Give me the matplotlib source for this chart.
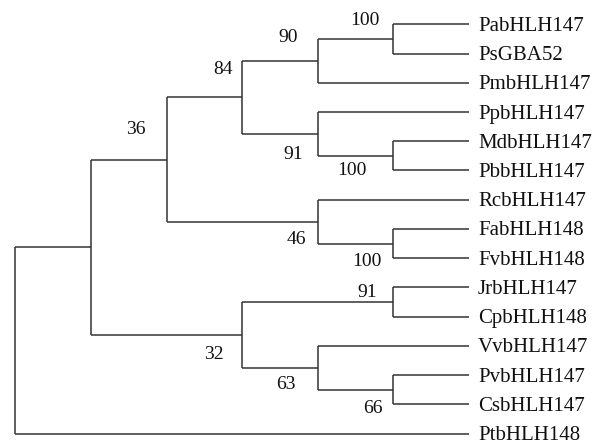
import matplotlib
matplotlib.use("Agg")
import matplotlib.pyplot as plt

# Leaf order top to bottom
leaf_names = ["PabHLH147", "PsGBA52", "PmbHLH147", "PpbHLH147", "MdbHLH147",
              "PbbHLH147", "RcbHLH147", "FabHLH148", "FvbHLH148", "JrbHLH147",
              "CpbHLH148", "VvbHLH147", "PvbHLH147", "CsbHLH147", "PtbHLH148"]

# Internal nodes: children, depth (cladogram level), bootstrap support
node_children = {
    "root": ["ingroup", "PtbHLH148"],
    "ingroup": ["n36", "n32"],
    "n36": ["n84", "n46"],
    "n84": ["n90", "n91"],
    "n90": ["n100a", "PmbHLH147"],
    "n100a": ["PabHLH147", "PsGBA52"],
    "n91": ["PpbHLH147", "n100b"],
    "n100b": ["MdbHLH147", "PbbHLH147"],
    "n46": ["RcbHLH147", "n100c"],
    "n100c": ["FabHLH148", "FvbHLH148"],
    "n32": ["n91b", "n63"],
    "n91b": ["JrbHLH147", "CpbHLH148"],
    "n63": ["VvbHLH147", "n66"],
    "n66": ["PvbHLH147", "CsbHLH147"],
}
node_depth = {"root": 0, "ingroup": 1, "n36": 2, "n84": 3, "n90": 4, "n100a": 5,
              "n91": 4, "n100b": 5, "n46": 4, "n100c": 5, "n32": 3, "n91b": 5,
              "n63": 4, "n66": 5}
node_support = {"n36": 36, "n84": 84, "n90": 90, "n100a": 100, "n91": 91,
                "n100b": 100, "n46": 46, "n100c": 100, "n32": 32, "n91b": 91,
                "n63": 63, "n66": 66}
leaf_depth = 6

# label placement (pixels, right edge relative to node / vertical from branch)
label_offset = {"n36": (-21, 32), "n84": (-10, 30), "n90": (-20, 25),
                "n100a": (-14, 20), "n91": (-15, -19), "n100b": (-27, -12.5),
                "n46": (-12, -16), "n100c": (-12, -15.5), "n32": (-19, -18),
                "n91b": (-16, 11.5), "n63": (-22, -15), "n66": (-11, -17)}

plt.rcParams["font.family"] = ["Liberation Serif", "DejaVu Serif"]

fig = plt.figure(figsize=(6.09, 4.44), dpi=100)
ax = fig.add_axes([0, 0, 1, 1])
ax.set_xlim(-15.5 / 75.6, (609 - 15.5) / 75.6)
ax.set_ylim((444 - 24.3) / 29.24, -24.3 / 29.24)
ax.axis("off")

lc = "#333333"
lw = 1.1
pos = {}


def place(name):
    if name in pos:
        return pos[name]
    if name in leaf_names:
        pos[name] = (leaf_depth, leaf_names.index(name))
    else:
        ys = [place(c)[1] for c in node_children[name]]
        pos[name] = (node_depth[name], sum(ys) / len(ys))
    return pos[name]


place("root")

for name, kids in node_children.items():
    x, y = pos[name]
    ys = [pos[c][1] for c in kids]
    ax.plot([x, x], [min(ys), max(ys)], color=lc, lw=lw, solid_capstyle="butt")
    for c in kids:
        cx, cy = pos[c]
        ax.plot([x, cx], [cy, cy], color=lc, lw=lw, solid_capstyle="butt")

# bbox centre sits below the ink centre, so nudge text down a little
for i, leaf in enumerate(leaf_names):
    ax.annotate(leaf, (leaf_depth, i), xytext=(9 * 0.72, -2 * 0.72), textcoords="offset points",
                ha="left", va="center", fontsize=15, color="#111111")

for name, val in node_support.items():
    x, y = pos[name]
    dx, dy = label_offset[name]
    ax.annotate(str(val), (x, y), xytext=(dx * 0.72, (dy - 2) * 0.72), textcoords="offset points",
                ha="right", va="center", fontsize=14, color="#111111")

fig.savefig("out.png", dpi=100)
